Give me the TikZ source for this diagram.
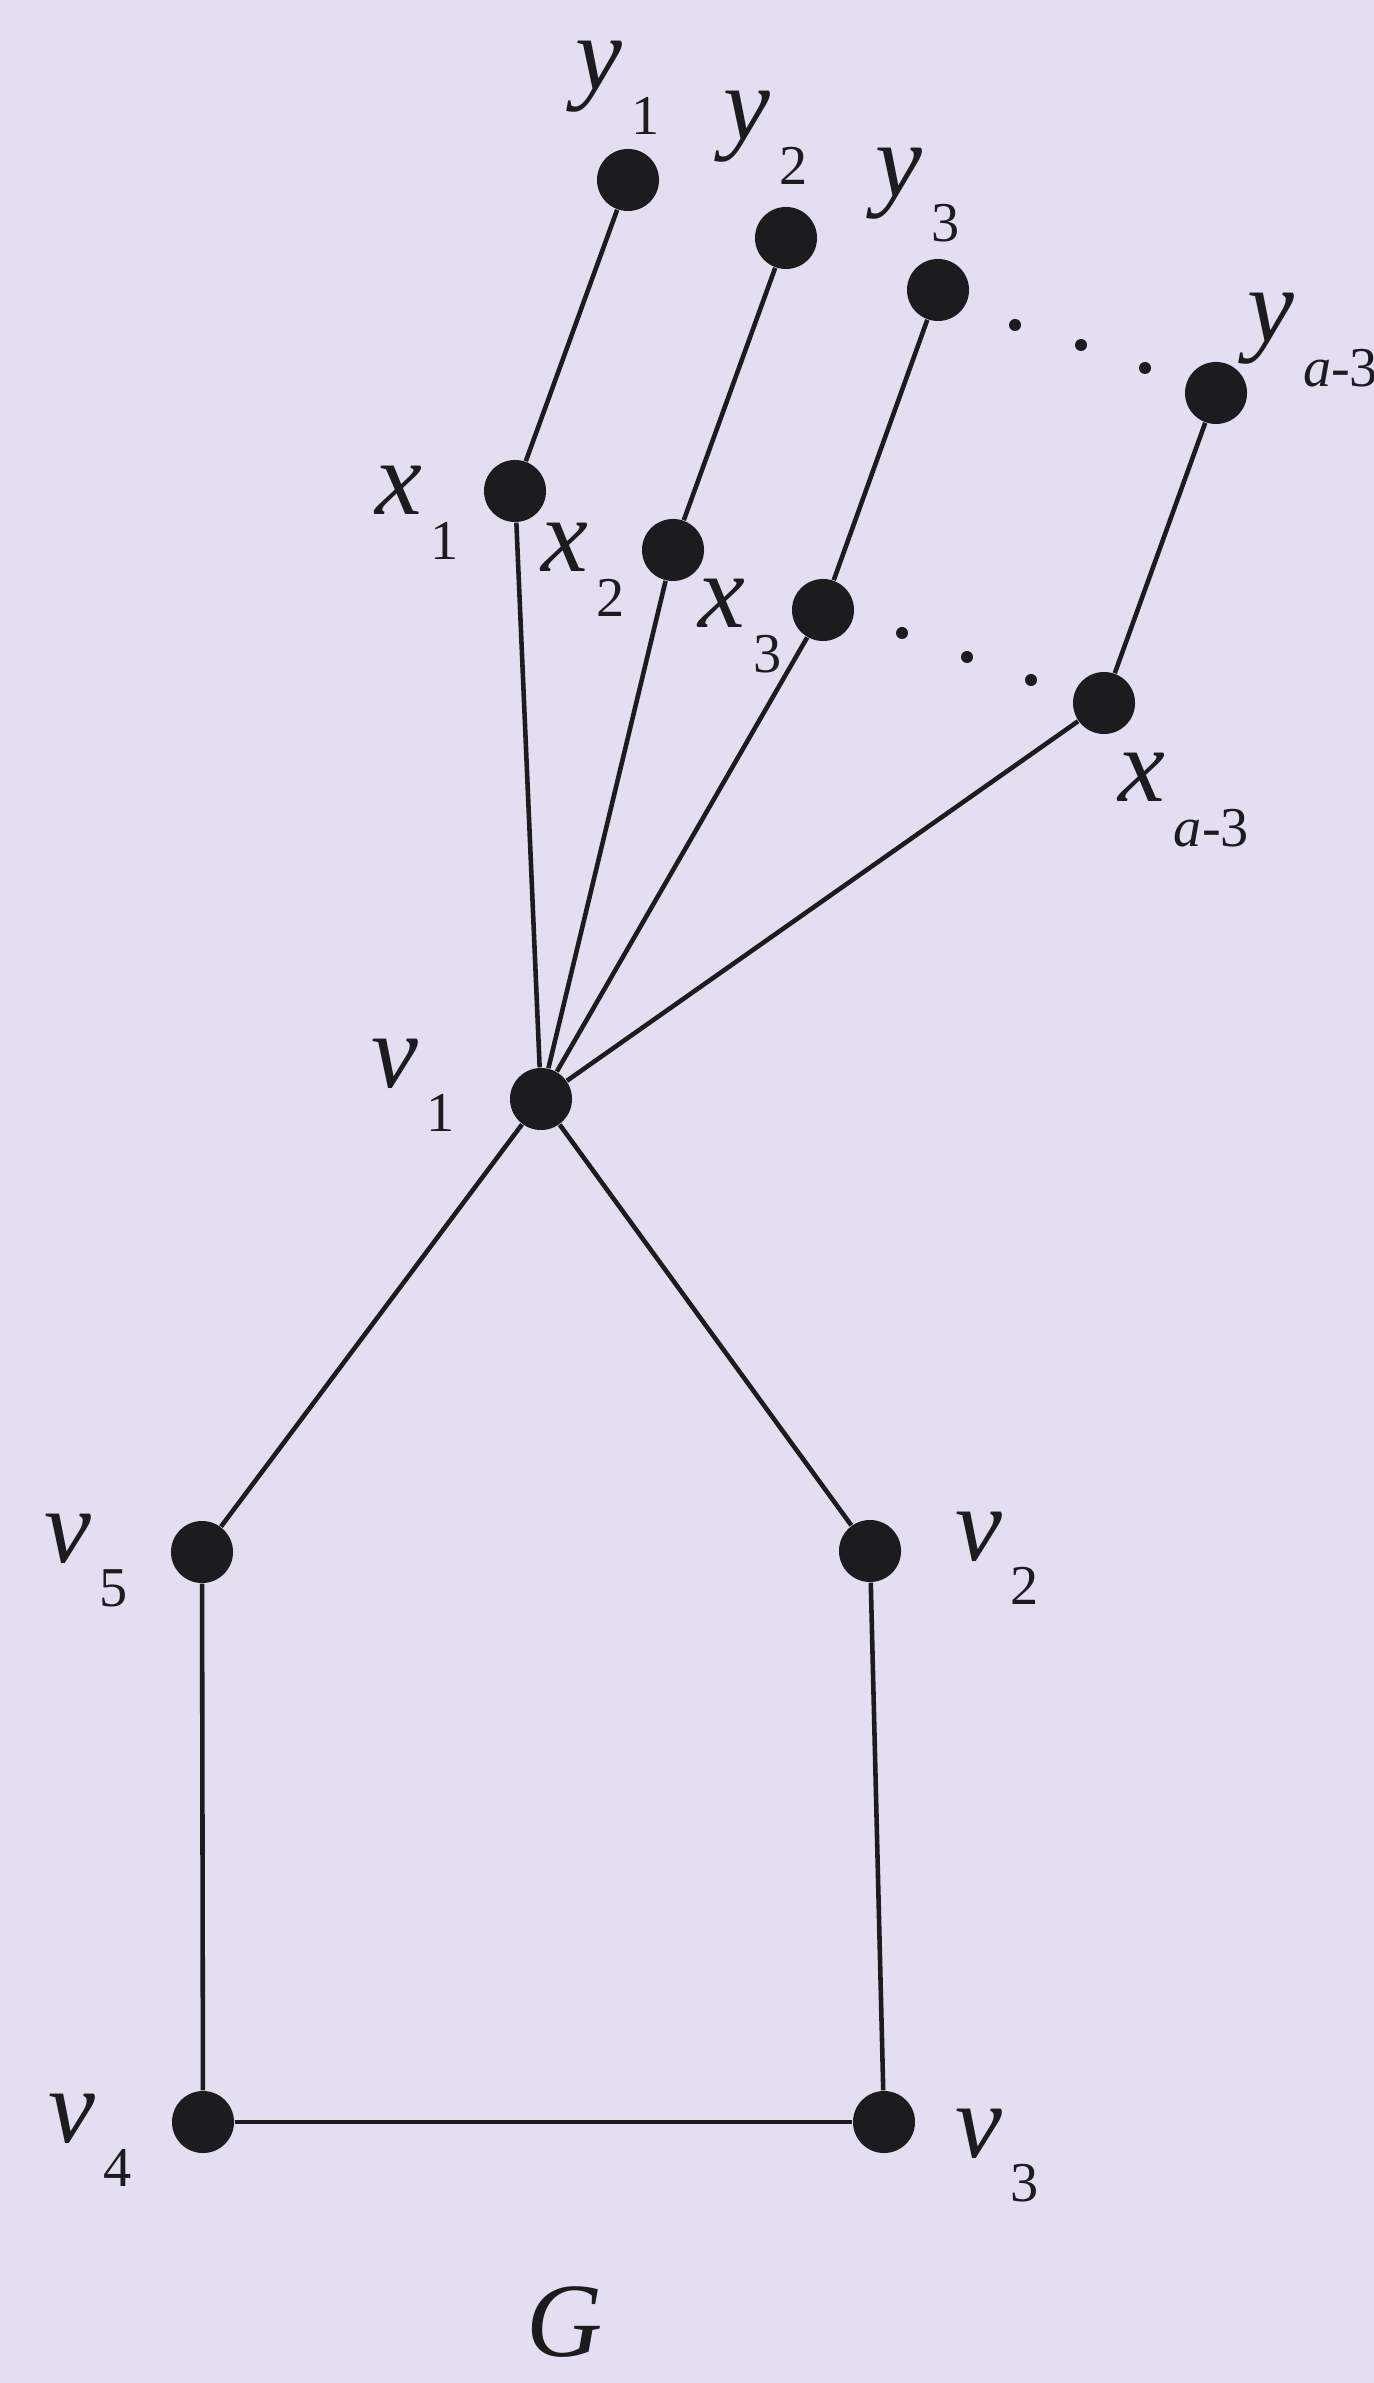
\documentclass[tikz,border=0pt]{standalone}
\usepackage{fontspec}
\setmainfont{Liberation Serif}
\definecolor{paper}{RGB}{227,222,240}
\definecolor{ink}{RGB}{28,28,32}
\newcommand{\lbl}[3][0.42em]{\textit{#2}\kern0.08em\raisebox{-#1}{\fontsize{16}{16}\selectfont #3}}
\begin{document}
\begin{tikzpicture}[x=0.01cm,y=-0.01cm,
  vtx/.style={circle,fill=ink,draw=none,minimum size=0.62cm,inner sep=0pt},
  sdot/.style={circle,fill=ink,draw=none,minimum size=0.12cm,inner sep=0pt},
  edge/.style={draw=ink,line width=1.3pt},
  lab/.style={anchor=base west,inner sep=0pt,font=\fontsize{30}{32}\selectfont,text=ink}]
\fill[paper] (0,0) rectangle (1374,2383);
\useasboundingbox (0,0) rectangle (1374,2383);
% vertices
\node[vtx] (y1) at (628,180) {};
\node[vtx] (y2) at (786,238) {};
\node[vtx] (y3) at (938,290) {};
\node[vtx] (ya) at (1216,393) {};
\node[vtx] (x1) at (515,491) {};
\node[vtx] (x2) at (673,550) {};
\node[vtx] (x3) at (823,610) {};
\node[vtx] (xa) at (1104,703) {};
\node[vtx] (v1) at (541,1099) {};
\node[vtx] (v5) at (202,1552) {};
\node[vtx] (v2) at (870,1551) {};
\node[vtx] (v4) at (203,2122) {};
\node[vtx] (v3) at (884,2122) {};
% small dots
\node[sdot] (t1) at (1015,325) {};
\node[sdot] (t2) at (1081,345) {};
\node[sdot] (t3) at (1145,368) {};
\node[sdot] (b1) at (902,633) {};
\node[sdot] (b2) at (967,657) {};
\node[sdot] (b3) at (1031,680) {};
% edges
\draw[edge] (y1) -- (x1);
\draw[edge] (y2) -- (x2);
\draw[edge] (y3) -- (x3);
\draw[edge] (ya) -- (xa);
\draw[edge] (x1) -- (v1);
\draw[edge] (x2) -- (v1);
\draw[edge] (x3) -- (v1);
\draw[edge] (xa) -- (v1);
\draw[edge] (v1) -- (v5);
\draw[edge] (v1) -- (v2);
\draw[edge] (v5) -- (v4);
\draw[edge] (v2) -- (v3);
\draw[edge] (v4) -- (v3);
% labels
\node[lab] (ly1) at (575,90) {\lbl{y}{1}};
\node[lab] (ly2) at (723,140) {\lbl{y}{2}};
\node[lab] (ly3) at (875,197) {\lbl{y}{3}};
\node[lab] (lya) at (1247,342) {\lbl{y}{\textit{a}-3}};
\node[lab] (lx1) at (375,515) {\lbl{x}{1}};
\node[lab] (lx2) at (541,572) {\lbl{x}{2}};
\node[lab] (lx3) at (698,628) {\lbl{x}{3}};
\node[lab] (lxa) at (1118,802) {\lbl{x}{\textit{a}-3}};
\node[lab] (lv1) at (371,1087) {\lbl{v}{1}};
\node[lab] (lv5) at (44,1562) {\lbl{v}{5}};
\node[lab] (lv2) at (955,1560) {\lbl{v}{2}};
\node[lab] (lv4) at (48,2142) {\lbl{v}{4}};
\node[lab] (lv3) at (955,2157) {\lbl{v}{3}};
\node[lab] (lg) at (526,2356) {\textit{G}};
\end{tikzpicture}
\end{document}
